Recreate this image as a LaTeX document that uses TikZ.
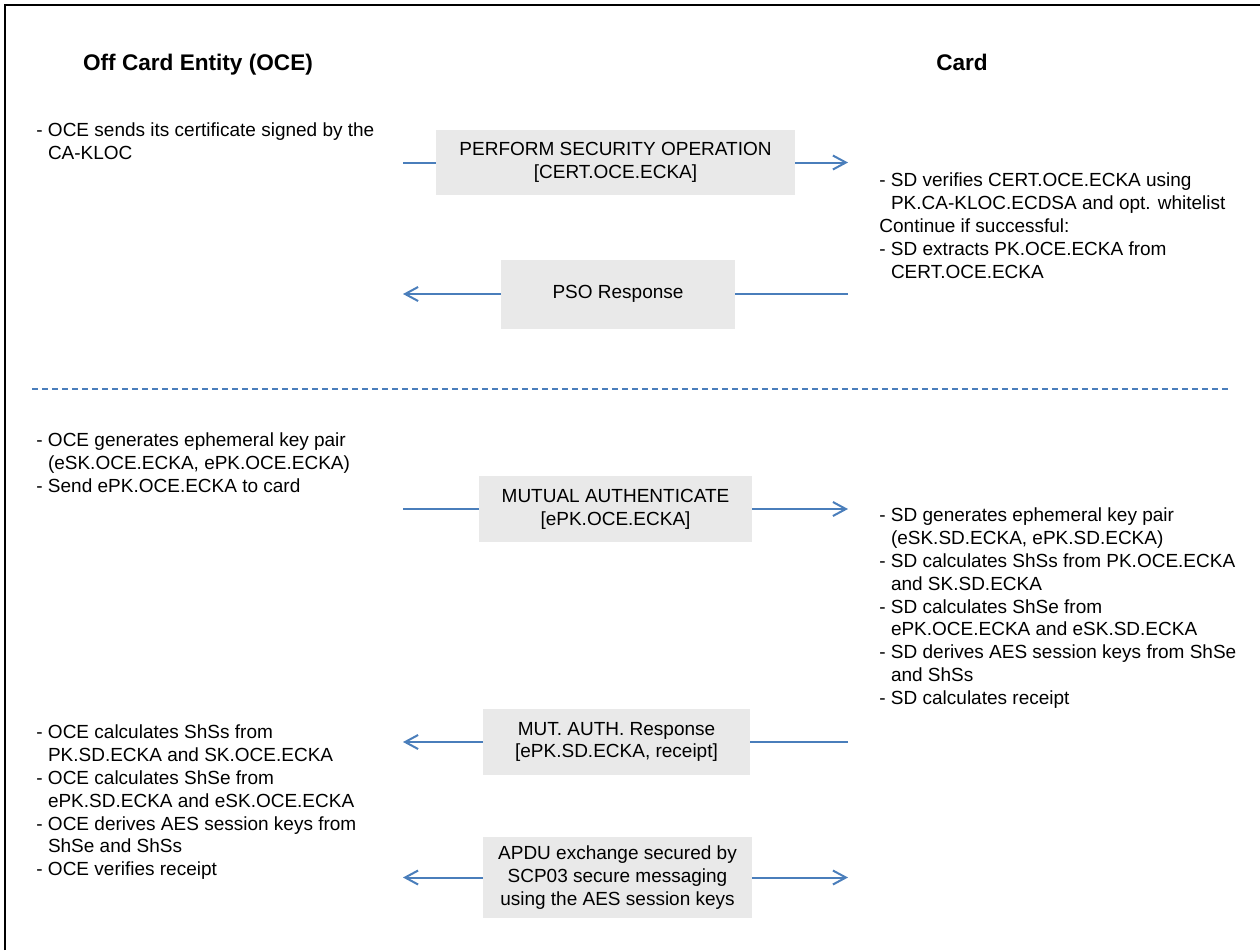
\documentclass[tikz,border=0pt]{standalone}
\usepackage{fontspec}
\setmainfont{Liberation Sans}
\usetikzlibrary{arrows.meta}

\definecolor{boxgray}{HTML}{E9E9E9}
\definecolor{msgblue}{HTML}{4A7EBB}

\tikzset{
  head/.style={anchor=base, inner sep=0pt, font=\fontsize{11.3}{13.5}\selectfont\bfseries},
  note/.style={anchor=north west, align=left, inner sep=0pt,
    font=\fontsize{9.5}{11.4}\selectfont, execute at begin node=\strut},
  cmd/.style={fill=boxgray, align=center, inner sep=0pt,
    font=\fontsize{9.5}{11.4}\selectfont},
  msg/.style={draw=msgblue, line width=1pt},
  tip/.style={-{Straight Barb[length=6.5pt,width=7pt]}},
}
\newcommand{\ind}{\phantom{- }}

\begin{document}
\begin{tikzpicture}[x=0.5pt,y=-0.5pt]
  \useasboundingbox (0,0) rectangle (1260,950);
  % frame
  \draw[line width=1pt] (5,950) |- (1260,5);

  % headers
  \node[head] (oce) at (198,70) {Off Card Entity (OCE)};
  \node[head] (card) at (962,70) {Card};

  % certificate
  \node[note] (oce1) at (36,122.8) {- OCE sends its certificate signed by the\\\ind CA-KLOC};
  \node[cmd, minimum width=179.5pt, minimum height=32.5pt] (pso) at (615.5,162.5)
    {PERFORM SECURITY OPERATION\\{[}CERT.OCE.ECKA{]}};
  \coordinate (psoL) at (403,162.5);
  \coordinate (psoR) at (848,162.5);
  \draw[msg] (psoL) -- (pso.west);
  \draw[msg,tip] (pso.east) -- (psoR);
  \node[note] (card1) at (879,172.8) {- SD verifies CERT.OCE.ECKA using\\\ind PK.CA-KLOC.ECDSA and opt. whitelist\\Continue if successful:\\- SD extracts PK.OCE.ECKA from\\\ind CERT.OCE.ECKA};

  \node[cmd, minimum width=117pt, minimum height=34.5pt] (psorsp) at (618,294)
    {PSO Response};
  \coordinate (rspL) at (403,294);
  \coordinate (rspR) at (848,294);
  \draw[msg] (rspR) -- (psorsp.east);
  \draw[msg,tip] (psorsp.west) -- (rspL);

  % separator
  \draw[msgblue, line width=1pt, dash pattern=on 3pt off 2pt] (32,389) -- (1228,389);

  % key agreement
  \node[note] (oce2) at (36,432.8) {- OCE generates ephemeral key pair\\\ind(eSK.OCE.ECKA, ePK.OCE.ECKA)\\- Send ePK.OCE.ECKA to card};
  \node[cmd, minimum width=136.5pt, minimum height=33pt] (mutauth) at (615.5,509)
    {MUTUAL AUTHENTICATE\\{[}ePK.OCE.ECKA{]}};
  \coordinate (maL) at (403,509);
  \coordinate (maR) at (848,509);
  \draw[msg] (maL) -- (mutauth.west);
  \draw[msg,tip] (mutauth.east) -- (maR);
  \node[note] (card2) at (879,507.8) {- SD generates ephemeral key pair\\\ind(eSK.SD.ECKA, ePK.SD.ECKA)\\- SD calculates ShSs from PK.OCE.ECKA\\\ind and SK.SD.ECKA\\- SD calculates ShSe from\\\ind ePK.OCE.ECKA and eSK.SD.ECKA\\- SD derives AES session keys from ShSe\\\ind and ShSs\\- SD calculates receipt};

  \node[cmd, minimum width=133.5pt, minimum height=33pt] (marsp) at (616.5,742)
    {MUT. AUTH. Response\\{[}ePK.SD.ECKA, receipt{]}};
  \coordinate (marL) at (403,742);
  \coordinate (marR) at (848,742);
  \draw[msg] (marR) -- (marsp.east);
  \draw[msg,tip] (marsp.west) -- (marL);
  \node[note] (oce3) at (36,724.8) {- OCE calculates ShSs from\\\ind PK.SD.ECKA and SK.OCE.ECKA\\- OCE calculates ShSe from\\\ind ePK.SD.ECKA and eSK.OCE.ECKA\\- OCE derives AES session keys from\\\ind ShSe and ShSs\\- OCE verifies receipt};

  % secure messaging
  \node[cmd, minimum width=134.5pt, minimum height=40.5pt] (apdu) at (617.5,877.5)
    {APDU exchange secured by\\SCP03 secure messaging\\using the AES session keys};
  \coordinate (apL) at (403,877.5);
  \coordinate (apR) at (848,877.5);
  \draw[msg,tip] (apdu.west) -- (apL);
  \draw[msg,tip] (apdu.east) -- (apR);
\end{tikzpicture}
\end{document}
